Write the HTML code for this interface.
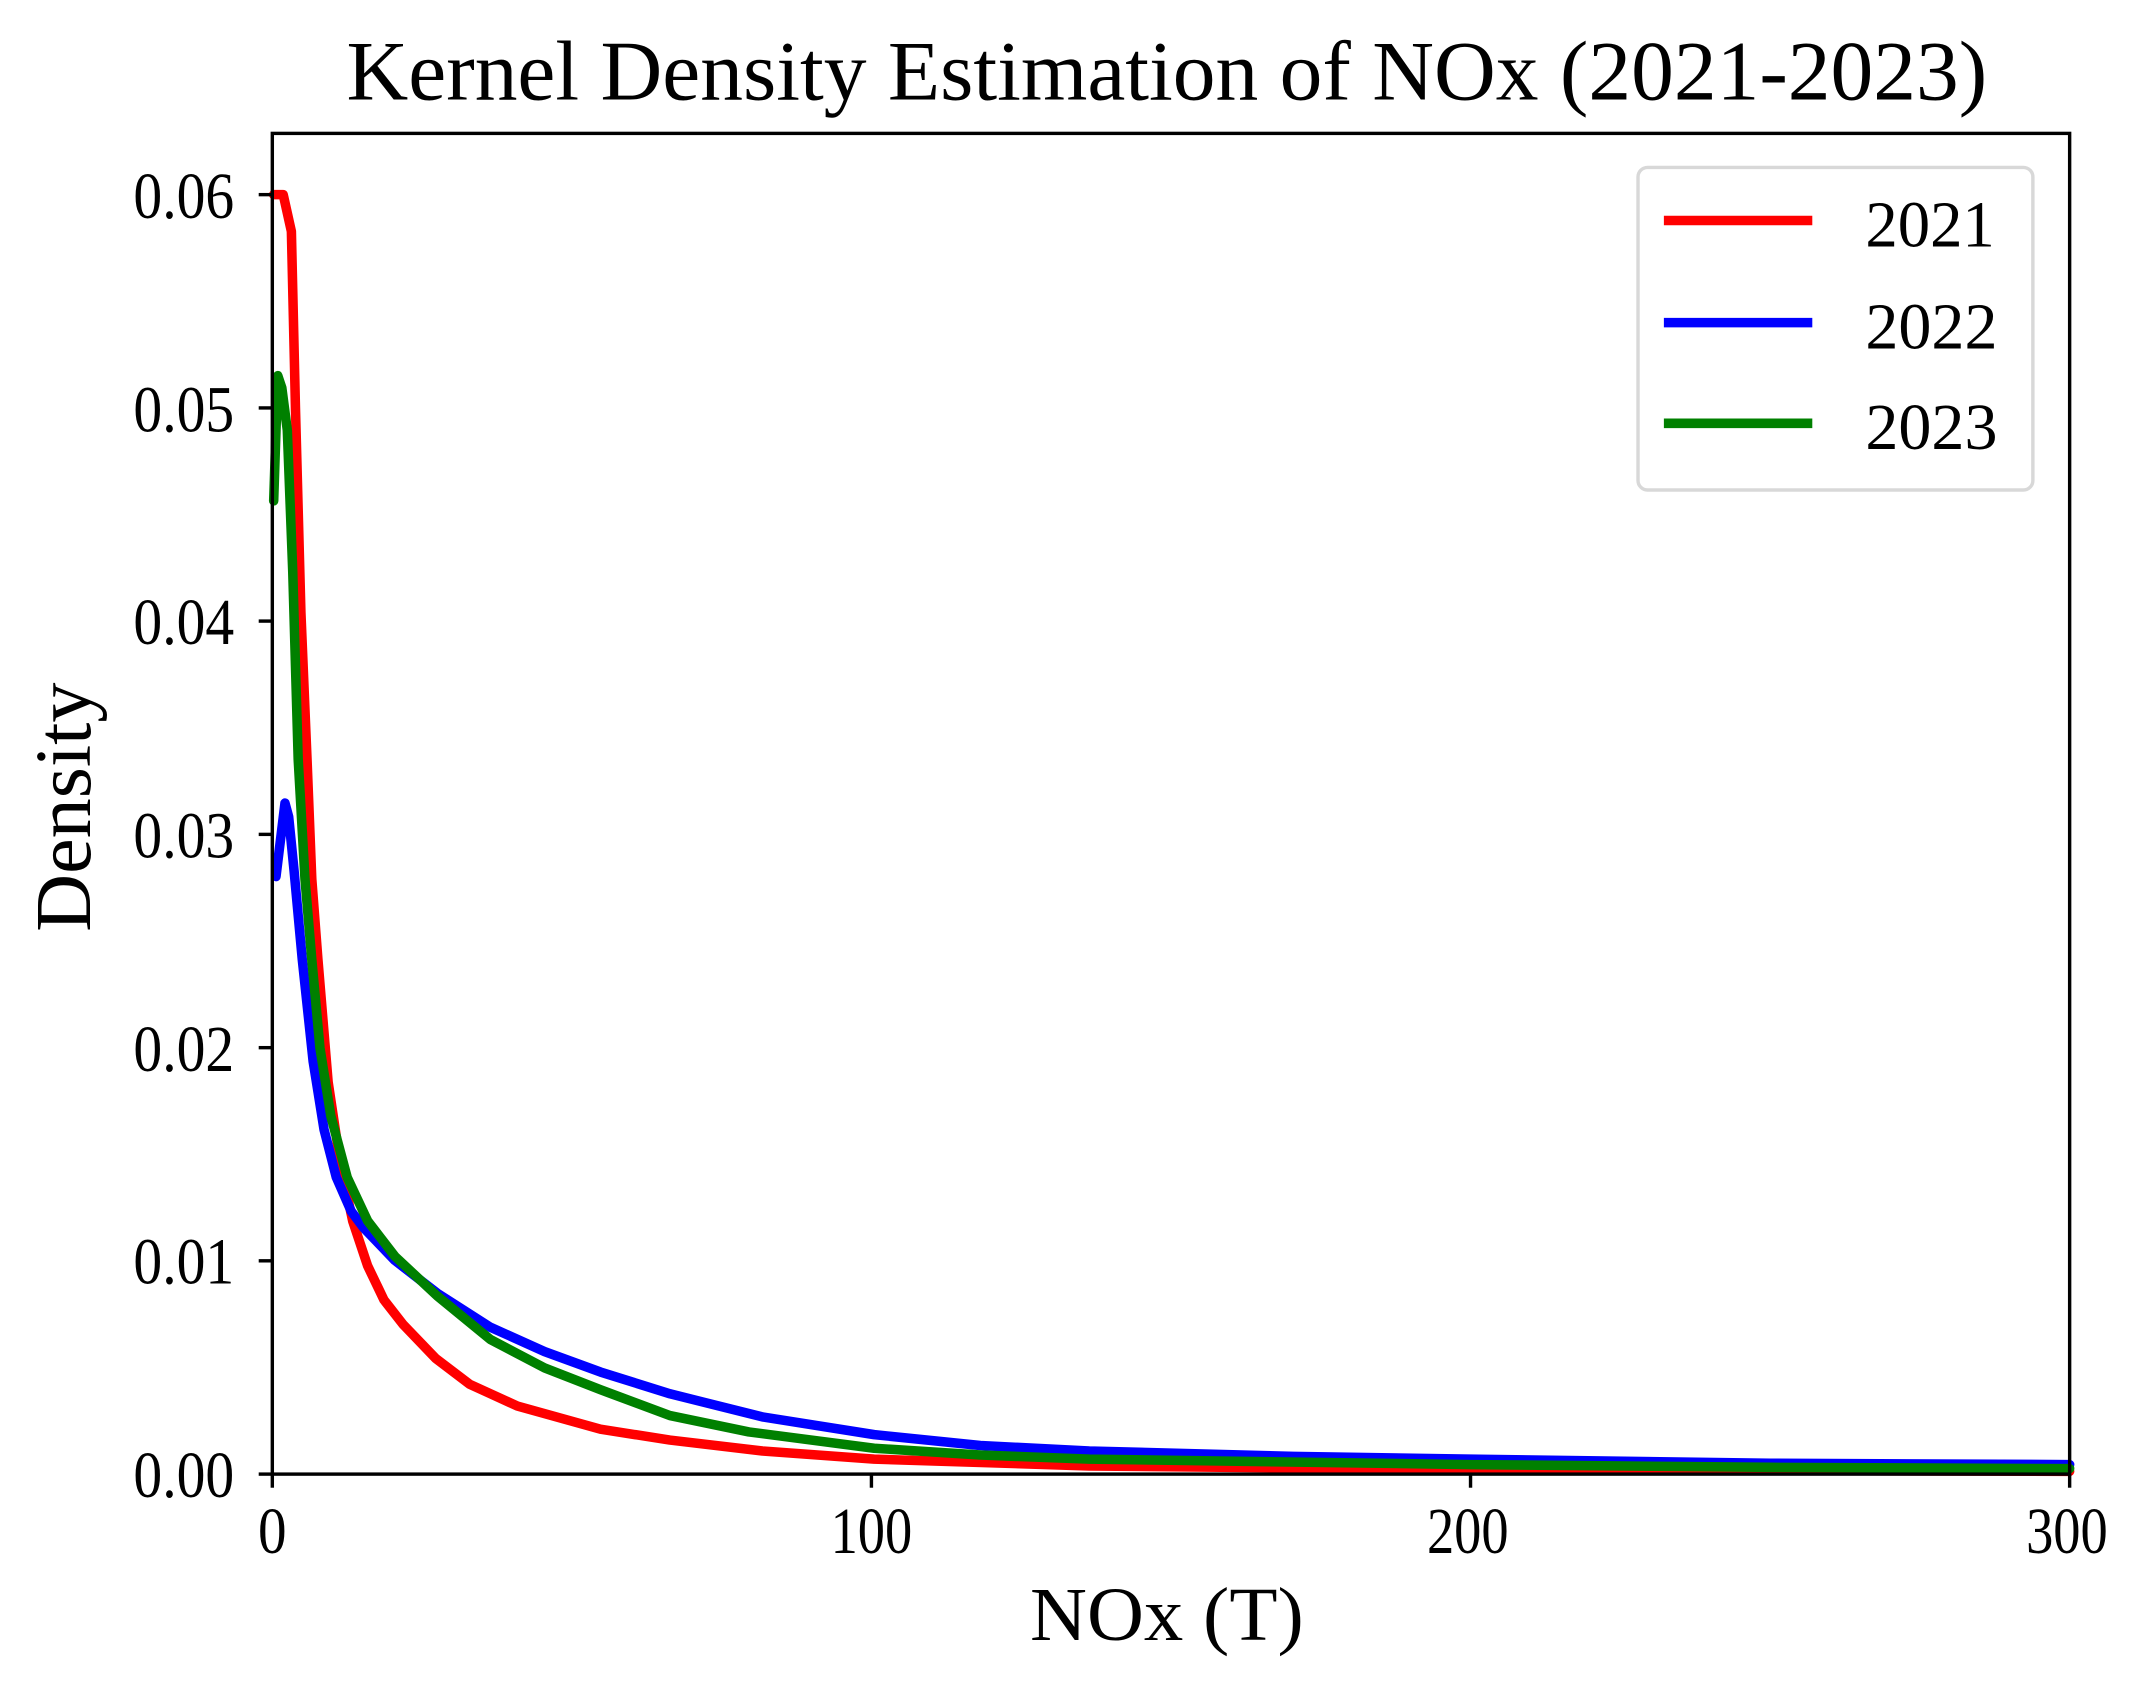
<!DOCTYPE html>
<html><head><meta charset="utf-8"><style>
html,body{margin:0;padding:0;background:#fff;}
svg{display:block;}
text{font-family:"Liberation Serif","Times New Roman",serif;fill:#000;}
</style></head><body>
<svg width="2135" height="1681" viewBox="0 0 1568 1235" preserveAspectRatio="none" xmlns="http://www.w3.org/2000/svg">
<rect x="0" y="0" width="1568" height="1235" fill="#fff"/>
<text x="857" y="73" font-size="62" text-anchor="middle" textLength="1205" lengthAdjust="spacingAndGlyphs">Kernel Density Estimation of NOx (2021-2023)</text>
<g fill="none" stroke-width="7" stroke-linejoin="round" stroke-linecap="round">
<polyline stroke="#ff0000" points="201,143 208,143 214,170 217,300 221,450 225.5,558 229,646 233.5,705 241,795 250,855 259,897 270,930 282,955 296,973 320,998 345,1017 380,1033 441,1050 492,1058 560,1066 642,1072 800,1077 1000,1079 1200,1080 1520,1081"/>
<polyline stroke="#0000ff" points="202.7,644 209.3,590 212,600 216,640 222,705 230,780 238,830 247,865 258,890 267,902 290,926 321,950 360,975 400,993 441,1008 492,1024 560,1041 642,1054 720,1062 800,1066 950,1070 1080,1072 1300,1075 1520,1076"/>
<polyline stroke="#008000" points="201,368 204,276 207,285 211,316 215,420 219,558 224,646 229,705 235,770 243,820 255,865 270,897 290,923 321,952 360,984 400,1005 441,1021 492,1040 550,1052 642,1064 720,1069 800,1072 1080,1076 1300,1078 1520,1079"/>
</g>
<rect x="200" y="98" width="1320" height="985" fill="none" stroke="#000" stroke-width="2.5"/>
<g stroke="#000" stroke-width="2.5">
<line x1="190" y1="1083" x2="200" y2="1083"/>
<line x1="190" y1="926.3" x2="200" y2="926.3"/>
<line x1="190" y1="769.7" x2="200" y2="769.7"/>
<line x1="190" y1="613" x2="200" y2="613"/>
<line x1="190" y1="456.3" x2="200" y2="456.3"/>
<line x1="190" y1="299.7" x2="200" y2="299.7"/>
<line x1="190" y1="143" x2="200" y2="143"/>
<line x1="200" y1="1083" x2="200" y2="1093"/>
<line x1="640" y1="1083" x2="640" y2="1093"/>
<line x1="1080" y1="1083" x2="1080" y2="1093"/>
<line x1="1520" y1="1083" x2="1520" y2="1093"/>
</g>
<g font-size="48" text-anchor="end">
<text x="172" y="1100" textLength="74" lengthAdjust="spacingAndGlyphs">0.00</text>
<text x="172" y="943" textLength="74" lengthAdjust="spacingAndGlyphs">0.01</text>
<text x="172" y="787" textLength="74" lengthAdjust="spacingAndGlyphs">0.02</text>
<text x="172" y="630" textLength="74" lengthAdjust="spacingAndGlyphs">0.03</text>
<text x="172" y="473" textLength="74" lengthAdjust="spacingAndGlyphs">0.04</text>
<text x="172" y="317" textLength="74" lengthAdjust="spacingAndGlyphs">0.05</text>
<text x="172" y="160" textLength="74" lengthAdjust="spacingAndGlyphs">0.06</text>
</g>
<g font-size="48" text-anchor="middle">
<text x="200" y="1141" textLength="21" lengthAdjust="spacingAndGlyphs">0</text>
<text x="640" y="1141" textLength="60" lengthAdjust="spacingAndGlyphs">100</text>
<text x="1078" y="1141" textLength="60" lengthAdjust="spacingAndGlyphs">200</text>
<text x="1518" y="1141" textLength="60" lengthAdjust="spacingAndGlyphs">300</text>
</g>
<text x="857" y="1205" font-size="56" text-anchor="middle" textLength="201" lengthAdjust="spacingAndGlyphs">NOx (T)</text>
<text transform="translate(66,593) rotate(-90)" font-size="58" text-anchor="middle" textLength="183" lengthAdjust="spacingAndGlyphs">Density</text>
<rect x="1203" y="123" width="290" height="237" rx="7" ry="7" fill="#fff" stroke="#d8d8d8" stroke-width="2.5"/>
<g stroke-width="7">
<line x1="1222" y1="162" x2="1331" y2="162" stroke="#ff0000"/>
<line x1="1222" y1="237" x2="1331" y2="237" stroke="#0000ff"/>
<line x1="1222" y1="311" x2="1331" y2="311" stroke="#008000"/>
</g>
<g font-size="48">
<text x="1370" y="181" textLength="95" lengthAdjust="spacingAndGlyphs">2021</text>
<text x="1370" y="256" textLength="97" lengthAdjust="spacingAndGlyphs">2022</text>
<text x="1370" y="330" textLength="97" lengthAdjust="spacingAndGlyphs">2023</text>
</g>
</svg>
</body></html>
